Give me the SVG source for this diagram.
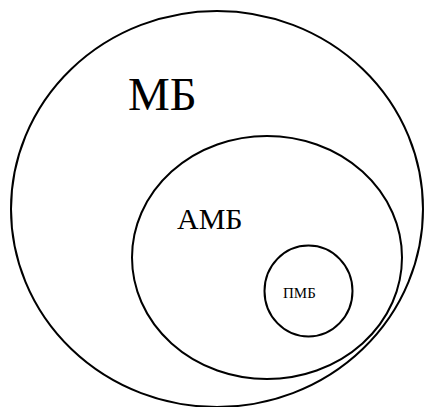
<svg xmlns="http://www.w3.org/2000/svg" width="424" height="407" viewBox="0 0 424 407">
<style>
.c{fill:none;stroke:#000;stroke-width:2}
text{font-family:"Liberation Serif","Times New Roman",serif;fill:#000}
</style>
<rect width="424" height="407" fill="#fff"/>
<g id="mb"><ellipse class="c" cx="217" cy="209" rx="206" ry="198"/><text x="128" y="110" font-size="47">МБ</text></g>
<g id="amb"><ellipse class="c" cx="267" cy="257.5" rx="135" ry="121.5"/><text x="177" y="229" font-size="30">АМБ</text></g>
<g id="pmb"><ellipse class="c" cx="308.5" cy="291" rx="44" ry="45.5"/><text x="283" y="298" font-size="15">ПМБ</text></g>
<g id="connectors"/>
</svg>
